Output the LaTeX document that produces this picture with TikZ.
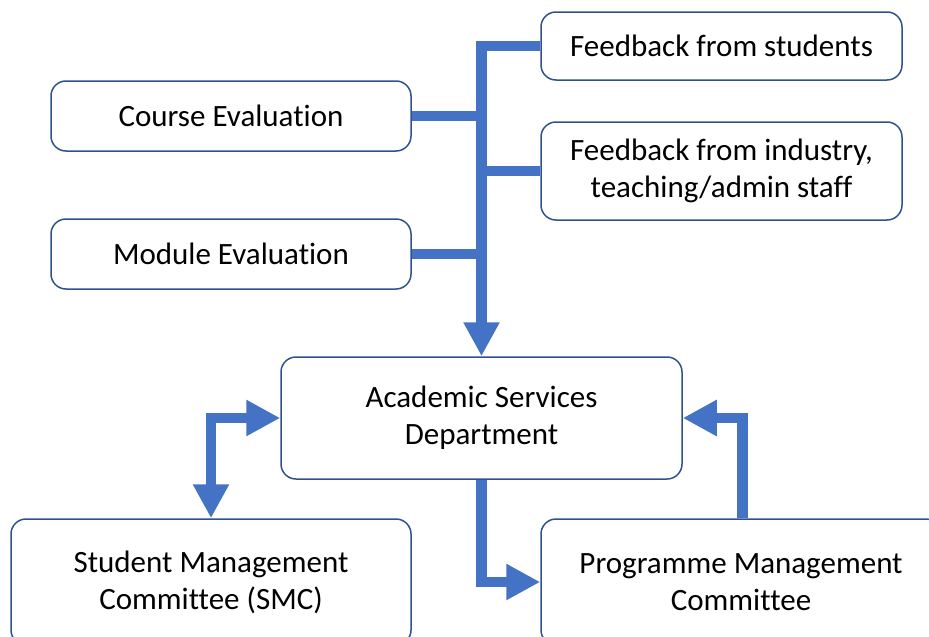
\documentclass[tikz,border=0pt]{standalone}
\usepackage{fontspec}
\setmainfont[Ligatures=NoCommon]{Carlito}
\usetikzlibrary{arrows.meta,positioning}
\definecolor{linkblue}{HTML}{4472C4}
\definecolor{boxedge}{HTML}{2F528F}
\begin{document}
\begin{tikzpicture}[x=1pt,y=-1pt,
  box/.style={draw=boxedge,line width=1.5pt,fill=white,rounded corners=15pt,
    inner sep=0pt,align=center,font=\fontsize{31}{37}\selectfont},
  conn/.style={draw=linkblue,line width=10.5pt,line join=miter},
  tip/.style={-{Triangle[width=34pt,length=34pt]}},
  tips/.style={{Triangle[width=34pt,length=34pt]}-{Triangle[width=34pt,length=34pt]}}]
\useasboundingbox (0,0) rectangle (929,637);
\clip (0,0) rectangle (929,637);

% input boxes
\node[box,minimum width=361pt,minimum height=68pt] (fs) at (721.5,46) {Feedback from students};
\node[box,minimum width=360pt,minimum height=70pt] (ce) at (231,116) {Course Evaluation};
\node[box,minimum width=361pt,minimum height=98pt] (fi) at (721.5,171) {Feedback from industry,\\teaching/admin staff};
\node[box,minimum width=360pt,minimum height=70pt] (me) at (231,254) {Module Evaluation};

% central department
\node[box,minimum width=401pt,minimum height=122pt] (asd) at (481.5,418) {Academic Services\\Department};

% committees
\node[box,minimum width=400pt,minimum height=126pt] (smc) at (211,582) {Student Management\\Committee (SMC)};
\node[box,minimum width=400pt,minimum height=126pt] (pmc) at (741,582) {Programme Management\\Committee};

% collecting trunk
\draw[conn,tip] (fs.west) -| (asd.north);
\draw[conn] (ce.east) -- (ce.east -| asd.north);
\draw[conn] (fi.west) -- (fi.west -| asd.north);
\draw[conn] (me.east) -- (me.east -| asd.north);

% links to the committees
\draw[conn,tips] (smc.north) |- (asd.west);
\draw[conn,tip] (asd.south) |- (pmc.west);
\coordinate (pmcup) at ([xshift=202pt]pmc.north west);
\draw[conn,tip] (pmcup) |- (asd.east);
\end{tikzpicture}
\end{document}
